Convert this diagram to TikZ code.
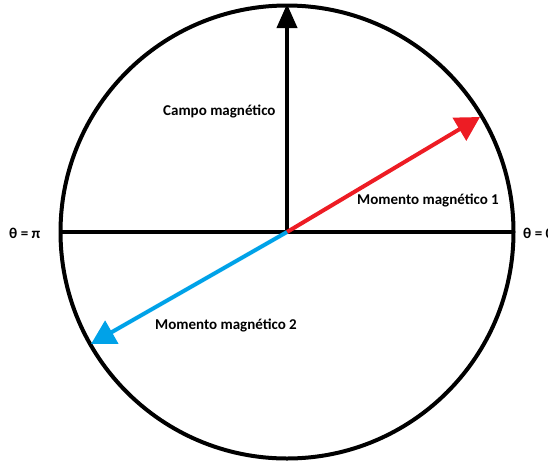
\documentclass[tikz,border=0pt]{standalone}
\usepackage{fontspec}
\setmainfont{Carlito}
\usetikzlibrary{arrows.meta}
\definecolor{redarrow}{RGB}{237,28,36}
\definecolor{bluearrow}{RGB}{0,162,232}
\tikzset{
  vec/.style={line width=4pt,-{Triangle[length=24pt,width=26pt]}},
  lbl/.style={font=\bfseries\fontsize{15}{17}\selectfont, inner sep=0pt, anchor=west}
}
\begin{document}
\begin{tikzpicture}[x=1pt,y=-1pt]
\useasboundingbox (0,0) rectangle (548,461);
\coordinate (O) at (287,232);
\coordinate (L) at (60,232);
\coordinate (R) at (513,232);
\coordinate (T) at (287,4);
\coordinate (P1) at (480,117);
\coordinate (P2) at (91,344);
\draw[line width=4pt] (O) circle[radius=226.5];
\draw[line width=4pt] (L) -- (R);
\draw[vec,-{Triangle[length=24pt,width=20pt]}] (O) -- (T);
\draw[vec,redarrow] (O) -- (P1);
\draw[vec,bluearrow] (O) -- (P2);
\node[lbl] (cm) at (163,111) {Campo magnético};
\node[lbl] (m1) at (357,200) {Momento magnético 1};
\node[lbl] (m2) at (155,325) {Momento magnético 2};
\node[lbl] (tp) at (9,233) {θ = π};
\node[lbl] (t0) at (523,233) {θ = 0};
\end{tikzpicture}
\end{document}
